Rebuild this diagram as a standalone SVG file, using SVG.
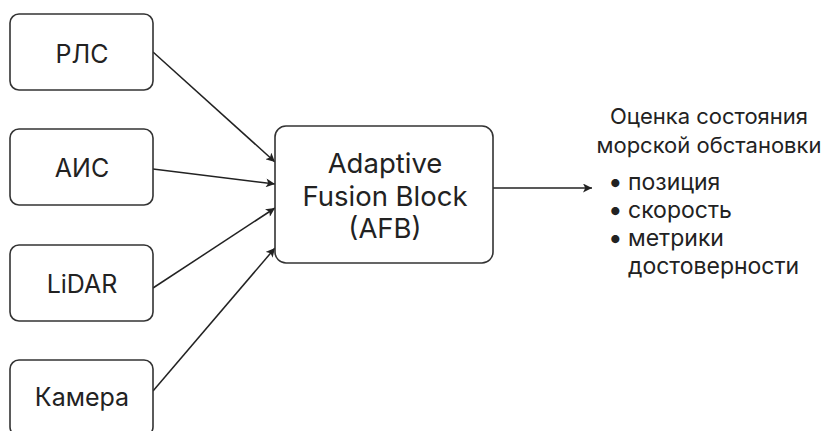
<svg xmlns="http://www.w3.org/2000/svg" width="824" height="431" viewBox="0 0 824 431">
<defs>
<marker id="ah" viewBox="0 0 10 10" refX="10" refY="5" markerWidth="10" markerHeight="9" markerUnits="userSpaceOnUse" orient="auto">
<path d="M0,0 L10,5 L0,10 L2.5,5 Z" fill="#222"/>
</marker>
<style>
.box{fill:#fff;stroke:#333;stroke-width:1.6}
.lbl{font-family:Inter,"Noto Sans",sans-serif;font-size:25px;fill:#222;text-anchor:middle}
.big{font-family:Inter,"Noto Sans",sans-serif;font-size:27.5px;fill:#222;text-anchor:middle}
.out{font-family:Inter,"Noto Sans",sans-serif;font-size:22px;fill:#222}
.item{font-family:Inter,"Noto Sans",sans-serif;font-size:23px;fill:#222}
.bul{font-family:Inter,"Noto Sans",sans-serif;font-size:26px;fill:#222}
.edge{stroke:#222;stroke-width:1.5;fill:none;marker-end:url(#ah)}
</style>
</defs>
<rect width="824" height="431" fill="#fff"/>
<g id="edges">
<line class="edge" x1="153" y1="52" x2="275" y2="162"/>
<line class="edge" x1="153" y1="169" x2="275" y2="184"/>
<line class="edge" x1="153" y1="288" x2="275" y2="208"/>
<line class="edge" x1="153" y1="391" x2="275" y2="248"/>
<line class="edge" x1="493" y1="188" x2="592" y2="188"/>
</g>
<g id="n-rls"><rect class="box" x="10" y="14" width="143" height="76" rx="9"/><text class="lbl" x="82" y="63">РЛС</text></g>
<g id="n-ais"><rect class="box" x="10" y="129" width="143" height="76" rx="9"/><text class="lbl" x="82" y="177">АИС</text></g>
<g id="n-lidar"><rect class="box" x="10" y="245" width="143" height="76" rx="9"/><text class="lbl" x="82" y="293">LiDAR</text></g>
<g id="n-camera"><rect class="box" x="10" y="360" width="143" height="76" rx="9"/><text class="lbl" x="82" y="406">Камера</text></g>
<g id="n-afb"><rect class="box" x="275" y="126" width="218" height="137" rx="11"/>
<text class="big" x="385" y="173">Adaptive</text>
<text class="big" x="385" y="206">Fusion Block</text>
<text class="big" x="385" y="238">(AFB)</text></g>
<g id="n-out">
<text class="out" x="709" y="124" text-anchor="middle">Оценка состояния</text>
<text class="out" x="709" y="153" text-anchor="middle">морской обстановки</text>
<text class="bul" x="608" y="191">•</text><text class="item" x="628" y="190">позиция</text>
<text class="bul" x="608" y="219">•</text><text class="item" x="628" y="218">скорость</text>
<text class="bul" x="608" y="247">•</text><text class="item" x="628" y="246">метрики</text>
<text class="item" x="628" y="274">достоверности</text>
</g>
</svg>
